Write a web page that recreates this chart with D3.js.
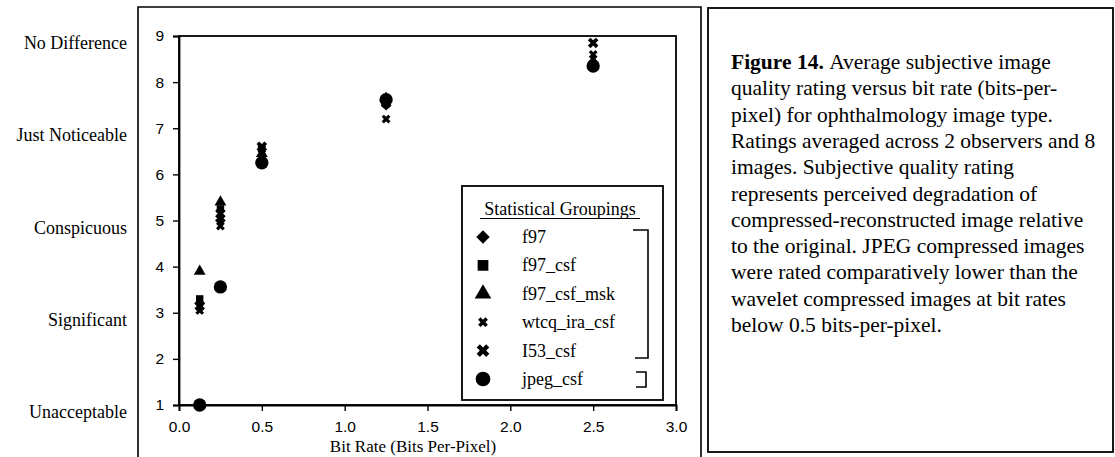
<!DOCTYPE html>
<html>
<head>
<meta charset="utf-8">
<script src="https://cdn.jsdelivr.net/npm/d3@7"></script>
<style>
  body { margin: 0; background: #fff; }
  svg { display: block; }
</style>
</head>
<body>
<svg id="chart" width="1115" height="457"></svg>
<script>
// Bit rates tested (bits per pixel)
const bitRates = [0.125, 0.25, 0.5, 1.25, 2.5];

// Mean subjective rating per codec at each bit rate
const f97          = [3.2, 5.0, 6.3, 7.5, 8.35];
const f97_csf      = [3.3, 5.25, 6.35, 7.6, 8.4];
const f97_csf_msk  = [3.9, 5.4, 6.45, 7.65, 8.45];
const wtcq_ira_csf = [3.05, 4.88, 6.55, 7.2, 8.6];
const I53_csf      = [3.15, 5.15, 6.6, 7.55, 8.85];
const jpeg_csf     = [1.0, 3.56, 6.25, 7.62, 8.35];

const seriesNames = ["f97", "f97_csf", "f97_csf_msk", "wtcq_ira_csf", "I53_csf", "jpeg_csf"];
const seriesValues = [f97, f97_csf, f97_csf_msk, wtcq_ira_csf, I53_csf, jpeg_csf];

// Axis ticks
const xTicks = [0.0, 0.5, 1.0, 1.5, 2.0, 2.5, 3.0];
const yTicks = [1, 2, 3, 4, 5, 6, 7, 8, 9];

// Verbal anchors of the rating scale
const ratingLevels = [9, 7, 5, 3, 1];
const ratingLabels = ["No Difference", "Just Noticeable", "Conspicuous", "Significant", "Unacceptable"];

const captionLines = [
  "Average subjective image",
  "quality rating versus bit rate (bits-per-",
  "pixel) for ophthalmology image type.",
  "Ratings averaged across 2 observers and 8",
  "images.  Subjective quality rating",
  "represents perceived degradation of",
  "compressed-reconstructed image relative",
  "to the original. JPEG compressed images",
  "were rated comparatively lower than the",
  "wavelet compressed images at bit rates",
  "below 0.5 bits-per-pixel."
];

const svg = d3.select("#chart");
const serif = "'Liberation Serif', 'Times New Roman', serif";
const sans = "'Liberation Sans', Arial, sans-serif";

// Outer panel frames
const frame = svg.append("g").attr("fill", "none").attr("stroke", "#000");
frame.append("path").attr("d", "M138,457 V7 H701 V457").attr("stroke-width", 1.6);
frame.append("rect").attr("x", 708).attr("y", 8).attr("width", 405).attr("height", 444).attr("stroke-width", 1.8);

// Scales
const x = d3.scaleLinear().domain([0, 3]).range([179, 676]);
const y = d3.scaleLinear().domain([1, 9]).range([405, 36]);

// Plot box
svg.append("rect")
  .attr("x", x(0)).attr("y", y(9))
  .attr("width", x(3) - x(0)).attr("height", y(1) - y(9))
  .attr("fill", "none").attr("stroke", "#000").attr("stroke-width", 1.8);

// Axes
const xAxis = svg.append("g")
  .attr("transform", `translate(0,${y(1)})`)
  .call(d3.axisBottom(x).tickValues(xTicks).tickFormat(d3.format(".1f")).tickSize(6).tickPadding(10));
const yAxis = svg.append("g")
  .attr("transform", `translate(${x(0)},0)`)
  .call(d3.axisLeft(y).tickValues(yTicks).tickFormat(d3.format("d")).tickSize(6).tickPadding(9));

[xAxis, yAxis].forEach(a => {
  a.select(".domain").attr("stroke-width", 1.8);
  a.selectAll(".tick line").attr("stroke-width", 1.4);
  a.selectAll("text").attr("font-family", sans).attr("font-size", 15.5).attr("fill", "#000");
});

// Rating-scale captions beside the y axis
svg.append("g").selectAll("text")
  .data(ratingLevels)
  .join("text")
  .attr("x", 127)
  .attr("y", d => y(d) + 13)
  .attr("text-anchor", "end")
  .attr("font-family", serif)
  .attr("font-size", 18)
  .text((d, i) => ratingLabels[i]);

// X axis title
svg.append("text")
  .attr("x", 413).attr("y", 452)
  .attr("text-anchor", "middle")
  .attr("font-family", serif).attr("font-size", 17)
  .text("Bit Rate (Bits Per-Pixel)");

// Marker shapes for each codec (diamond = square turned 45°, crosses turned into an X)
const markerType = [d3.symbolSquare, d3.symbolSquare, d3.symbolTriangle, d3.symbolCross, d3.symbolCross, d3.symbolCircle];
const markerRotate = [45, 0, 0, 45, 45, 0];
const plotSize = [58, 55, 60, 48, 70, 140];
const legendSize = [90, 115, 120, 60, 100, 170];

const points = [];
seriesValues.forEach((vals, s) => {
  vals.forEach((v, i) => points.push({ s, bx: bitRates[i], v }));
});

svg.append("g").selectAll("path")
  .data(points)
  .join("path")
  .attr("transform", d => `translate(${x(d.bx)},${y(d.v)}) rotate(${markerRotate[d.s]})`)
  .attr("d", d => d3.symbol().type(markerType[d.s]).size(plotSize[d.s])())
  .attr("fill", "#000");

// Legend
const lg = svg.append("g");
lg.append("rect").attr("x", 462).attr("y", 186).attr("width", 201).attr("height", 214)
  .attr("fill", "#fff").attr("stroke", "#000").attr("stroke-width", 1.8);
lg.append("text").attr("x", 560).attr("y", 215).attr("text-anchor", "middle")
  .attr("font-family", serif).attr("font-size", 18).text("Statistical Groupings");
lg.append("line").attr("x1", 480).attr("x2", 640).attr("y1", 218.5).attr("y2", 218.5)
  .attr("stroke", "#000").attr("stroke-width", 1);

const rowY = d3.scalePoint().domain(seriesNames).range([237, 379]);
const rows = lg.selectAll("g.row").data(seriesNames).join("g")
  .attr("transform", d => `translate(0,${rowY(d)})`);
rows.append("path")
  .attr("transform", (d, i) => `translate(483,0) rotate(${markerRotate[i]})`)
  .attr("d", (d, i) => d3.symbol().type(markerType[i]).size(legendSize[i])())
  .attr("fill", "#000");
rows.append("text").attr("x", 522).attr("y", 6)
  .attr("font-family", serif).attr("font-size", 18).text(d => d);

// Grouping brackets
lg.append("path").attr("d", "M633,230 H648 V358 H635")
  .attr("fill", "none").attr("stroke", "#000").attr("stroke-width", 1.6);
lg.append("path").attr("d", "M636,372 H646 V387 H636")
  .attr("fill", "none").attr("stroke", "#000").attr("stroke-width", 1.6);

// Figure caption
const cap = svg.append("text").attr("font-family", serif).attr("font-size", 21.5);
captionLines.forEach((line, i) => {
  const t = cap.append("tspan").attr("x", 731).attr("y", 69 + i * 26.3);
  if (i === 0) {
    t.append("tspan").attr("font-weight", "bold").text("Figure 14. ");
    t.append("tspan").text(line);
  } else {
    t.text(line);
  }
});
</script>
</body>
</html>
